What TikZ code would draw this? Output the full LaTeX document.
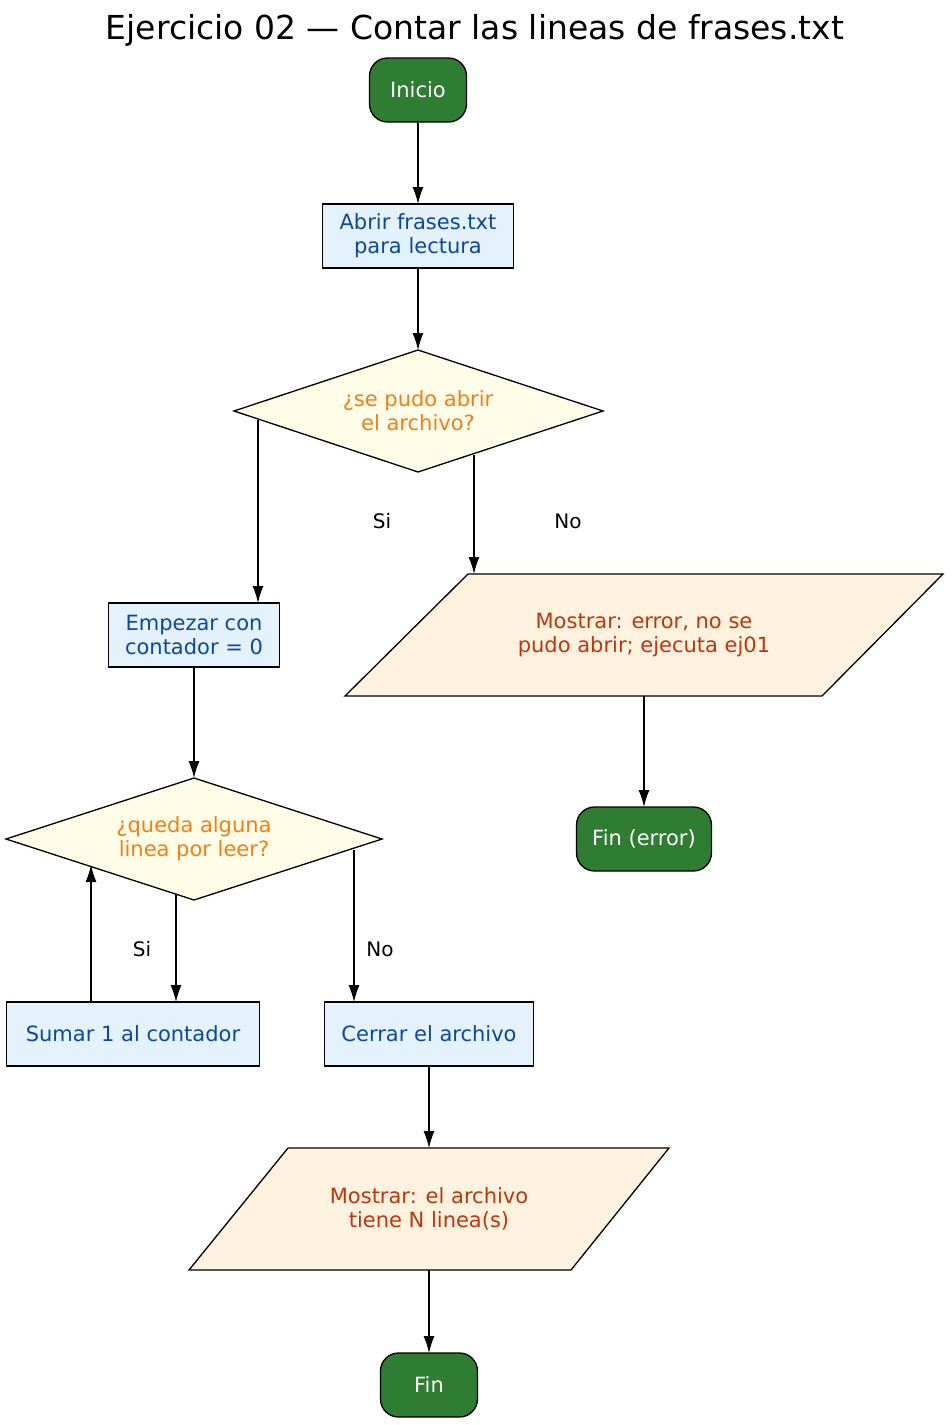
\documentclass[tikz,border=0pt]{standalone}
\usepackage{fontspec}
\setmainfont{DejaVu Sans}
\usetikzlibrary{arrows.meta,calc}
\definecolor{tgreen}{HTML}{2E7D32}
\definecolor{pfill}{HTML}{E3F2FD}
\definecolor{ptext}{HTML}{0D47A1}
\definecolor{dfill}{HTML}{FFFDE7}
\definecolor{dtext}{HTML}{F57F17}
\definecolor{iofill}{HTML}{FFF3E0}
\definecolor{iotext}{HTML}{BF360C}
\tikzset{
    term/.style =   {rectangle,
                    rounded corners=18pt,
                    fill=tgreen,
                    draw=black,
                    line width=1.3pt,
                    text=white,
                    minimum height=64pt,
                    font=\fontsize{21}{24}\selectfont},
    proc/.style =   {rectangle,
                    fill=pfill,
                    draw=black,
                    line width=1.3pt,
                    text=ptext,
                    minimum height=64pt,
                    align=center,
                    font=\fontsize{21}{24}\selectfont},
    shapeline/.style = {line width=1.3pt, draw=black},
    ctxt/.style =   {text=dtext,
                    align=center,
                    font=\fontsize{21}{24}\selectfont},
    iotxt/.style =  {text=iotext,
                    align=center,
                    font=\fontsize{21}{24}\selectfont},
    lbl/.style =    {font=\fontsize{20}{22}\selectfont},
    -,
    flow/.style =   {-{Latex[length=17pt,width=11pt]}, line width=1.3pt}
}
\begin{document}
\begin{tikzpicture}[x=1pt,y=-1pt]
    \useasboundingbox (0,0) rectangle (951,1425);
    \node[font=\fontsize{33}{36}\selectfont] (title) at (475,30) {Ejercicio 02 — Contar las lineas de frases.txt};
    \node[term, minimum width=97pt]   (start) at (418,90)   {Inicio};
    \node[proc, minimum width=191pt]  (open)  at (418,236)  {Abrir frases.txt\\para lectura};
    % decisions
    \filldraw[shapeline, fill=dfill] (234,411) -- (418,350) -- (603,411) -- (418,472) -- cycle;
    \node[ctxt] (ok) at (418,411) {¿se pudo abrir\\el archivo?};
    \node[proc, minimum width=171pt]  (zero)  at (194,635)  {Empezar con\\contador = 0};
    % parallelograms
    \filldraw[shapeline, fill=iofill] (468,574) -- (943,574) -- (822,696) -- (345,696) -- cycle;
    \node[iotxt] (err) at (644,635) {Mostrar: error, no se\\pudo abrir; ejecuta ej01};
    \node[term, minimum width=135pt]  (enderr) at (644,839) {Fin (error)};
    \filldraw[shapeline, fill=dfill] (6,839) -- (194,778) -- (382,839) -- (194,900) -- cycle;
    \node[ctxt] (more) at (194,839) {¿queda alguna\\linea por leer?};
    \node[proc, minimum width=253pt]  (add)   at (133,1034) {Sumar 1 al contador};
    \node[proc, minimum width=209pt]  (close) at (429,1034) {Cerrar el archivo};
    \filldraw[shapeline, fill=iofill] (288,1148) -- (669,1148) -- (571,1270) -- (189,1270) -- cycle;
    \node[iotxt] (show) at (429,1209) {Mostrar: el archivo\\tiene N linea(s)};
    \node[term, minimum width=97pt]   (stop)  at (429,1385) {Fin};

    \draw[flow] (start) -- (418,204);
    \draw[flow] (open) -- (418,350);
    \draw[flow] (258,420) -- (258,603);
    \draw[flow] (474,455) -- (474,574);
    \node[lbl] (si1) at (382,521) {Si};
    \node[lbl] (no1) at (568,521) {No};
    \draw[flow] (644,696) -- (644,807);
    \draw[flow] (zero) -- (194,778);
    \draw[flow] (176,895) -- (176,1002);
    \draw[flow] (91,1002) -- (91,865);
    \draw[flow] (354,850) -- (354,1002);
    \node[lbl] (si2) at (142,949) {Si};
    \node[lbl] (no2) at (380,949) {No};
    \draw[flow] (close) -- (429,1148);
    \draw[flow] (429,1270) -- (429,1353);
\end{tikzpicture}
\end{document}
